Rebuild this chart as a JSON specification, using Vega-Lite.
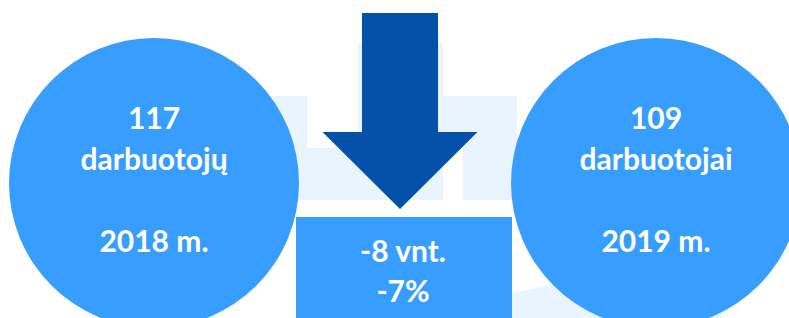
{
  "$schema": "https://vega.github.io/schema/vega-lite/v6.json",
  "width": 789,
  "height": 318,
  "autosize": {"type": "fit", "contains": "padding"},
  "padding": 0,
  "background": "white",
  "config": {"view": {"stroke": null}},
  "data": {
    "values": [
      {"pozicija": "2018", "elementas": "apskritimas", "metai": "2018 m.", "darbuotojai": 117, "tekstas": "117|darbuotojų"},
      {"pozicija": "2019", "elementas": "apskritimas", "metai": "2019 m.", "darbuotojai": 109, "tekstas": "109|darbuotojai"},
      {"pozicija": "pokytis", "elementas": "rodyklė", "pokytis_vnt": -8},
      {"pozicija": "pokytis", "elementas": "langelis", "pokytis_vnt": -8, "pokytis_proc": -7, "tekstas": "-8 vnt.|-7%"}
    ]
  },
  "encoding": {
    "x": {"field": "pozicija", "type": "nominal", "scale": {"type": "point", "domain": ["2018", "pokytis", "2019"], "range": [154, 656], "padding": 0}, "axis": null},
    "y": {"field": "elementas", "type": "nominal", "scale": {"type": "point", "domain": ["rodyklė", "apskritimas", "langelis"], "range": [111, 277], "padding": 0}, "axis": null}
  },
  "layer": [
    {
      "transform": [{"filter": "datum.elementas === 'rodyklė'"}],
      "mark": {"type": "point", "shape": "M-0.28,-0.453L0.287,-0.453L0.287,0.593L-0.28,0.593Z M-0.867,-0.1L-0.62,-0.1L-0.62,0.247L-0.867,0.247Z M-0.867,0.247L0,0.247L0,0.593L-0.867,0.593Z M0.253,-0.1L0.78,-0.1L0.78,0.14L0.253,0.14Z M0.42,0.14L0.78,0.14L0.78,0.593L0.42,0.593Z M0.747,1.213L2.147,0.927L2.147,1.38L0.747,1.38Z", "size": 90000, "filled": true, "color": "#EAF4FE", "opacity": 1, "strokeWidth": 0, "xOffset": -5}
    },
    {
      "transform": [{"filter": "datum.elementas === 'apskritimas'"}],
      "mark": {"type": "point", "shape": "circle", "size": 84100, "filled": true, "color": "#379EFF", "opacity": 1, "strokeWidth": 0, "yOffset": -11}
    },
    {
      "transform": [{"filter": "datum.elementas === 'rodyklė'"}],
      "mark": {"type": "point", "shape": "M-0.388,-1L0.388,-1L0.388,0.214L0.791,0.214L0,1L-0.791,0.214L-0.388,0.214Z", "size": 38416, "filled": true, "color": "#0351A9", "opacity": 1, "strokeWidth": 0, "xOffset": -5}
    },
    {
      "transform": [{"filter": "datum.elementas === 'langelis'"}],
      "mark": {"type": "point", "shape": "M-1,-0.556L1,-0.556L1,0.6L-1,0.6Z", "size": 46656, "filled": true, "color": "#379EFF", "opacity": 1, "strokeWidth": 0, "xOffset": -1}
    },
    {
      "transform": [{"filter": "datum.elementas === 'apskritimas'"}],
      "mark": {"type": "text", "font": "Lato", "fontWeight": "bold", "fontSize": 30, "color": "white", "align": "center", "baseline": "middle", "lineHeight": 41, "lineBreak": "|", "yOffset": -74},
      "encoding": {"text": {"field": "tekstas", "type": "nominal"}}
    },
    {
      "transform": [{"filter": "datum.elementas === 'apskritimas'"}],
      "mark": {"type": "text", "font": "Lato", "fontWeight": "bold", "fontSize": 30, "color": "white", "align": "center", "baseline": "middle", "yOffset": 49},
      "encoding": {"text": {"field": "metai", "type": "nominal"}}
    },
    {
      "transform": [{"filter": "datum.elementas === 'langelis'"}],
      "mark": {"type": "text", "font": "Lato", "fontWeight": "bold", "fontSize": 30, "color": "white", "align": "center", "baseline": "middle", "lineHeight": 40, "lineBreak": "|", "yOffset": -24, "xOffset": -2},
      "encoding": {"text": {"field": "tekstas", "type": "nominal"}}
    }
  ]
}
